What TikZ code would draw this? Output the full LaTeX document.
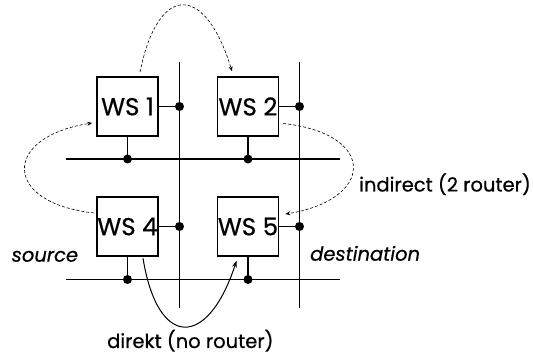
\documentclass[tikz,border=0pt]{standalone}
\usepackage{fontspec}
\setmainfont{Poppins}[FakeBold=0.6]
\usetikzlibrary{arrows.meta}
\begin{document}
\begin{tikzpicture}[x=1pt,y=-1pt,
  ws/.style={draw,line width=1.6pt,minimum width=61pt,minimum height=59pt,inner sep=0pt,font=\fontsize{24.5}{26}\selectfont},
  bus/.style={line width=1.6pt},
  tap/.style={circle,fill=black,inner sep=0pt,minimum size=9pt},
  hop/.style={line width=0.6pt,dash pattern=on 3pt off 2pt,-{Stealth[length=5pt,width=4pt]}},
  lbl/.style={font=\fontsize{19.5}{22}\selectfont,inner sep=0pt,anchor=base west}]
\useasboundingbox (0,0) rectangle (533,355);

% workstations
\node[ws] (ws1) at (127.5,106.5) {WS 1};
\node[ws] (ws2) at (248,106.5) {WS 2};
\node[ws] (ws4) at (127.5,226.5) {WS 4};
\node[ws] (ws5) at (248,226.5) {WS 5};

% vertical and horizontal buses
\coordinate (v1t) at (179.5,62);
\coordinate (v1b) at (179.5,308);
\coordinate (v2t) at (299.5,62);
\coordinate (v2b) at (299.5,308);
\coordinate (h1l) at (66,159);
\coordinate (h1r) at (340,159);
\coordinate (h2l) at (66,279.5);
\coordinate (h2r) at (340,279.5);
\draw[bus] (v1t) -- (v1b);
\draw[bus] (v2t) -- (v2b);
\draw[bus] (h1l) -- (h1r);
\draw[bus] (h2l) -- (h2r);

% taps onto the buses
\node[tap] (t1e) at (179.5,106.5) {};
\node[tap] (t1s) at (127.5,159) {};
\node[tap] (t2e) at (299.5,106.5) {};
\node[tap] (t2s) at (248,159) {};
\node[tap] (t4e) at (179.5,226.5) {};
\node[tap] (t4s) at (127.5,279.5) {};
\node[tap] (t5e) at (299.5,226.5) {};
\node[tap] (t5s) at (248,279.5) {};
\foreach \w/\e/\s in {ws1/t1e/t1s,ws2/t2e/t2s,ws4/t4e/t4s,ws5/t5e/t5s}{
  \draw[bus] (\w.east) -- (\e.center);
  \draw[bus] (\w.south) -- (\s.center);
}

% indirect route via two routers
\draw[hop] ([xshift=-2pt]ws4.west |- 0,213) .. controls (2,203) and (2,137) .. ([xshift=-4pt]ws1.west |- 0,123);
\draw[hop] ([xshift=12.5pt,yshift=4pt]ws1.north) .. controls (158,-17) and (205,-17) .. ([xshift=-16pt,yshift=5pt]ws2.north);
\draw[hop] ([xshift=4pt]ws2.east |- 0,123.5) .. controls (378,134) and (374,200) .. ([xshift=6pt]ws5.east |- 0,214);

% direct route
\draw[line width=1pt,-{Stealth[length=7pt,width=5pt]}] ([xshift=15.5pt,yshift=-1.5pt]ws4.south) .. controls (158,350) and (208,348) .. ([xshift=-11.5pt,yshift=-4pt]ws5.south);

% labels
\node[lbl] (ind) at (359,191.5) {indirect (2 router)};
\node[lbl,font=\fontsize{19.5}{22}\selectfont\itshape] (src) at (11.5,261.7) {source};
\node[lbl,font=\fontsize{19.5}{22}\selectfont\itshape] (dst) at (310,260.7) {destination};
\node[lbl] (dir) at (107,348) {direkt (no router)};
\end{tikzpicture}
\end{document}
